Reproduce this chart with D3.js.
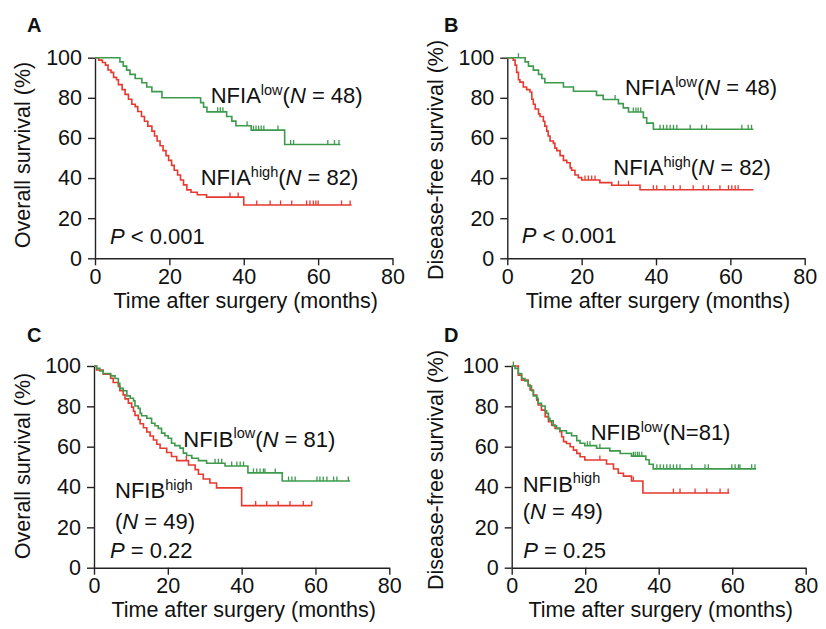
<!DOCTYPE html>
<html><head><meta charset="utf-8">
<script src="https://cdn.jsdelivr.net/npm/d3@7"></script>
<style>
body{margin:0;background:#fff}
svg{display:block}
text{font-family:"Liberation Sans",Arial,Helvetica,sans-serif;fill:#111}
</style>
</head><body>
<svg id="chart" width="826" height="629"></svg>
<script>
// ---------- tick labels ----------
const xTicks = [0, 20, 40, 60, 80];
const yTicks = [0, 20, 40, 60, 80, 100];

// ---------- Panel A: overall survival by NFIA ----------
const aLowSteps = [[6.7,97.9],[7.6,95.8],[8.5,93.8],[9.4,91.7],[10.8,89.6],[12.6,87.5],[13.9,85.4],[15.3,83.1],[18.0,80.0],[28.4,77.6],[29.2,75.3],[30.1,73.0],[35.4,70.7],[36.8,68.4],[37.9,66.1],[42.0,63.9],[51.0,56.7]];
const aLowCensor = [33.0,33.7,34.4,40.9,42.6,43.3,44.0,44.7,45.4,49.2,52.6,53.4,62.6,64.4,65.6];
const aLowEnd = 66.0;
const aHighSteps = [[1.0,98.8],[2.0,97.6],[2.8,96.3],[3.5,93.9],[4.3,92.7],[5.0,90.2],[5.8,89.0],[6.3,86.6],[7.3,84.1],[8.1,81.7],[9.0,79.3],[9.9,76.8],[10.8,75.6],[11.5,73.2],[12.5,70.7],[13.3,68.3],[14.2,65.9],[15.3,63.4],[16.0,61.0],[16.7,58.5],[17.5,56.1],[18.3,53.7],[19.1,51.2],[19.8,48.8],[20.6,46.3],[21.3,43.9],[22.2,41.5],[23.0,39.0],[23.8,36.6],[24.7,34.1],[25.8,32.9],[27.5,31.7],[30.0,30.5],[40.0,26.6]];
const aHighCensor = [36.3,38.5,43.5,47.1,49.9,52.9,56.9,57.8,58.7,59.4,60.0,66.3,68.6];
const aHighEnd = 69.0;

// ---------- Panel B: disease-free survival by NFIA ----------
const bLowSteps = [[4.8,97.9],[5.7,95.8],[7.0,93.8],[8.4,91.7],[9.3,89.6],[10.1,87.5],[15.1,85.4],[17.8,83.3],[24.0,81.2],[25.8,79.2],[29.9,77.1],[31.2,75.0],[32.6,72.9],[36.6,70.1],[37.5,67.4],[39.3,64.3]];
const bLowCensor = [3.0,29.0,33.9,34.6,35.2,35.9,41.1,42.0,42.9,43.8,44.7,45.6,49.2,52.3,53.6,63.1,64.8,65.7];
const bLowEnd = 66.2;
const bHighSteps = [[1.6,98.8],[2.1,96.3],[2.5,92.7],[3.0,89.0],[3.4,87.8],[4.3,85.4],[5.2,84.1],[6.1,82.9],[6.6,79.3],[7.0,76.8],[7.5,74.4],[8.4,72.0],[8.8,70.7],[9.7,68.3],[10.1,65.9],[10.6,63.4],[11.0,61.0],[11.5,58.5],[12.4,57.3],[12.8,54.9],[13.3,53.7],[14.2,51.2],[15.1,48.8],[16.0,47.6],[16.9,45.1],[17.3,43.9],[18.2,41.5],[19.1,40.2],[20.0,39.0],[24.9,37.7],[28.1,36.4],[35.7,34.2]];
const bHighCensor = [20.9,21.8,22.7,23.6,29.9,32.6,39.3,40.2,42.4,44.7,46.5,50.0,52.7,54.1,57.2,59.5,60.4,61.3,62.1];
const bHighEnd = 66.2;

// ---------- Panel C: overall survival by NFIB ----------
const cLowSteps = [[0.7,98.8],[1.6,97.5],[2.5,96.3],[4.5,95.1],[5.7,93.8],[6.6,91.4],[7.0,88.9],[7.9,87.7],[8.9,85.2],[9.8,84.0],[10.7,82.7],[11.1,80.2],[12.0,79.0],[12.5,76.5],[12.9,75.3],[14.3,74.1],[15.6,71.6],[16.5,70.4],[17.4,69.1],[18.3,66.7],[19.2,65.4],[20.1,64.2],[21.0,61.7],[21.9,60.5],[23.3,59.3],[24.2,56.8],[25.1,55.6],[26.5,54.3],[28.3,53.1],[30.5,51.8],[35.5,50.4],[41.7,47.0],[51.0,43.0]];
const cLowCensor = [32.8,33.7,34.6,37.3,38.7,39.6,40.5,43.2,44.1,45.0,45.9,46.3,49.1,52.7,53.6,54.5,60.4,61.2,62.1,63.1,64.9,65.8,68.9];
const cLowEnd = 69.4;
const cHighSteps = [[0.7,98.0],[2.5,95.9],[4.5,93.9],[5.2,91.8],[6.6,89.8],[7.0,87.8],[7.9,85.7],[8.4,83.7],[9.3,81.6],[10.2,79.6],[10.7,77.6],[11.1,75.5],[12.0,73.5],[12.5,71.4],[13.4,69.4],[14.3,67.3],[15.2,65.3],[16.1,63.3],[17.0,61.2],[17.9,59.2],[19.7,57.1],[21.0,55.1],[22.4,53.1],[25.6,50.9],[27.4,48.6],[28.3,46.3],[29.6,44.0],[31.4,42.0],[33.2,39.6],[40.0,30.8]];
const cHighCensor = [25.0,43.8,46.8,49.9,53.1,56.7,59.0];
const cHighEnd = 59.0;

// ---------- Panel D: disease-free survival by NFIB ----------
const dLowSteps = [[0.9,98.8],[1.8,96.3],[2.7,93.8],[3.6,92.6],[4.5,90.1],[5.4,87.7],[5.9,85.2],[6.8,84.0],[7.2,81.5],[8.1,80.2],[9.1,77.8],[9.5,76.5],[10.0,74.1],[10.4,72.8],[11.3,70.4],[12.2,69.1],[13.1,67.9],[14.9,66.7],[16.3,65.4],[17.7,63.0],[18.6,61.7],[19.9,60.5],[23.1,59.2],[26.7,57.9],[29.5,56.6],[32.6,55.3],[36.5,53.5],[37.4,51.3],[38.5,49.0]];
const dLowCensor = [0.45,20.6,21.3,24.0,33.1,33.6,34.2,34.7,35.4,39.5,40.4,41.3,42.2,43.1,44.0,44.9,45.8,49.0,52.6,53.5,59.9,60.8,61.7,62.1,65.3,66.2];
const dLowEnd = 66.5;
const dHighSteps = [[1.8,95.5],[2.7,93.0],[4.5,90.6],[5.0,88.1],[5.9,85.6],[6.8,83.1],[7.2,80.7],[8.1,78.1],[9.1,74.9],[10.0,72.4],[10.9,70.7],[11.8,69.1],[13.1,67.4],[13.6,64.9],[14.1,62.5],[14.9,61.6],[15.9,60.0],[16.8,58.3],[17.7,56.7],[18.6,55.0],[19.9,53.4],[25.8,51.4],[27.7,48.9],[29.0,46.8],[30.4,45.4],[32.6,43.0],[35.7,37.0]];
const dHighCensor = [24.0,33.1,44.0,45.8,49.9,53.1,56.7,58.9];
const dHighEnd = 59.2;

// ---------- text ----------
const yTitles = ["Overall survival (%)", "Disease-free survival (%)"];
const xTitle = "Time after surgery (months)";

const GREEN = "#3d9a4c", RED = "#e6392f";

const panels = [
  {letter:"A", lx:27, ly:32, x0:95, x1:392.5, yT:57.7, yB:258.3, yt:yTitles[0], ytx:30, yty:155,
   series:[{steps:aHighSteps,censor:aHighCensor,end:aHighEnd,color:RED},{steps:aLowSteps,censor:aLowCensor,end:aLowEnd,color:GREEN}],
   labels:[
     {x:210.7,y:103.3,parts:[["NFIA"],["low","sup"],["("],["N","it"],[" = 48)"]]},
     {x:200.7,y:185,parts:[["NFIA"],["high","sup"],["("],["N","it"],[" = 82)"]]},
     {x:110,y:244.3,parts:[["P","it"],[" < 0.001"]]}
   ]},
  {letter:"B", lx:444, ly:32, x0:507.3, x1:804.7, yT:57.7, yB:258.3, yt:yTitles[1], ytx:443, yty:160,
   series:[{steps:bHighSteps,censor:bHighCensor,end:bHighEnd,color:RED},{steps:bLowSteps,censor:bLowCensor,end:bLowEnd,color:GREEN}],
   labels:[
     {x:625,y:95,parts:[["NFIA"],["low","sup"],["("],["N","it"],[" = 48)"]]},
     {x:613.3,y:175,parts:[["NFIA"],["high","sup"],["("],["N","it"],[" = 82)"]]},
     {x:521.7,y:243.3,parts:[["P","it"],[" < 0.001"]]}
   ]},
  {letter:"C", lx:27, ly:342, x0:94, x1:389.3, yT:366, yB:567.7, yt:yTitles[0], ytx:30, yty:466,
   series:[{steps:cHighSteps,censor:cHighCensor,end:cHighEnd,color:RED},{steps:cLowSteps,censor:cLowCensor,end:cLowEnd,color:GREEN}],
   labels:[
     {x:183.3,y:446.7,parts:[["NFIB"],["low","sup"],["("],["N","it"],[" = 81)"]]},
     {x:115,y:498.3,parts:[["NFIB"],["high","sup"]]},
     {x:115,y:529,parts:[["("],["N","it"],[" = 49)"]]},
     {x:110,y:558.3,parts:[["P","it"],[" = 0.22"]]}
   ]},
  {letter:"D", lx:444, ly:342, x0:511.7, x1:805.7, yT:366, yB:567.7, yt:yTitles[1], ytx:443, yty:470,
   series:[{steps:dHighSteps,censor:dHighCensor,end:dHighEnd,color:RED},{steps:dLowSteps,censor:dLowCensor,end:dLowEnd,color:GREEN}],
   labels:[
     {x:590.7,y:440,parts:[["NFIB"],["low","sup"],["(N=81)"]]},
     {x:522.7,y:491.7,parts:[["NFIB"],["high","sup"]]},
     {x:522.7,y:519,parts:[["("],["N","it"],[" = 49)"]]},
     {x:523.3,y:558.3,parts:[["P","it"],[" = 0.25"]]}
   ]}
];

const svg = d3.select("#chart");
const FS = 21.5;

function levelAt(steps, t){
  let v = 100;
  for (const [st, sv] of steps){ if (st <= t) v = sv; else break; }
  return v;
}

panels.forEach(p => {
  const x = d3.scaleLinear().domain([0, 80]).range([p.x0, p.x1]);
  const y = d3.scaleLinear().domain([0, 100]).range([p.yB, p.yT]);
  const g = svg.append("g");

  // axes
  const ax = g.append("g").attr("transform", `translate(0,${p.yB})`)
    .call(d3.axisBottom(x).tickValues(xTicks).tickSize(7).tickSizeOuter(0).tickPadding(3));
  const ay = g.append("g").attr("transform", `translate(${p.x0},0)`)
    .call(d3.axisLeft(y).tickValues(yTicks).tickSize(7).tickSizeOuter(0).tickPadding(6));
  [ax, ay].forEach(a => {
    a.selectAll("path,line").attr("stroke", "#222").attr("stroke-width", 1.4);
    a.selectAll("text").attr("font-size", FS).attr("fill", "#111")
      .style("font-family", '"Liberation Sans",Arial,sans-serif');
  });

  // titles
  g.append("text").attr("x", (p.x0 + p.x1) / 2 + 2).attr("y", p.yB + 49.7)
    .attr("text-anchor", "middle").attr("font-size", FS).text(xTitle);
  g.append("text").attr("transform", `translate(${p.ytx},${p.yty}) rotate(-90)`)
    .attr("text-anchor", "middle").attr("font-size", FS).text(p.yt);
  g.append("text").attr("x", p.lx).attr("y", p.ly).attr("font-size", 20)
    .attr("font-weight", "bold").attr("fill", "#000").text(p.letter);

  // curves
  const line = d3.line().x(d => x(d[0])).y(d => y(d[1])).curve(d3.curveStepAfter);
  p.series.forEach(s => {
    const pts = [[0, 100], ...s.steps, [s.end, s.steps[s.steps.length - 1][1]]];
    g.append("path").attr("d", line(pts)).attr("fill", "none")
      .attr("stroke", s.color).attr("stroke-width", 1.6);
    g.selectAll(null).data(s.censor).enter().append("line")
      .attr("x1", d => x(d)).attr("x2", d => x(d))
      .attr("y1", d => y(levelAt(s.steps, d)))
      .attr("y2", d => y(levelAt(s.steps, d)) - 4.5)
      .attr("stroke", s.color).attr("stroke-width", 1.3);
  });

  // annotations
  p.labels.forEach(L => {
    const t = g.append("text").attr("x", L.x).attr("y", L.y).attr("font-size", 22);
    let shifted = false;
    L.parts.forEach(([str, kind]) => {
      const ts = t.append("tspan").text(str);
      if (kind === "sup") {
        ts.attr("font-size", 14.5).attr("dy", -8.5); shifted = true;
      } else {
        if (shifted) { ts.attr("dy", 8.5); shifted = false; }
        if (kind === "it") ts.attr("font-style", "italic");
      }
    });
  });
});
</script>
</body></html>
